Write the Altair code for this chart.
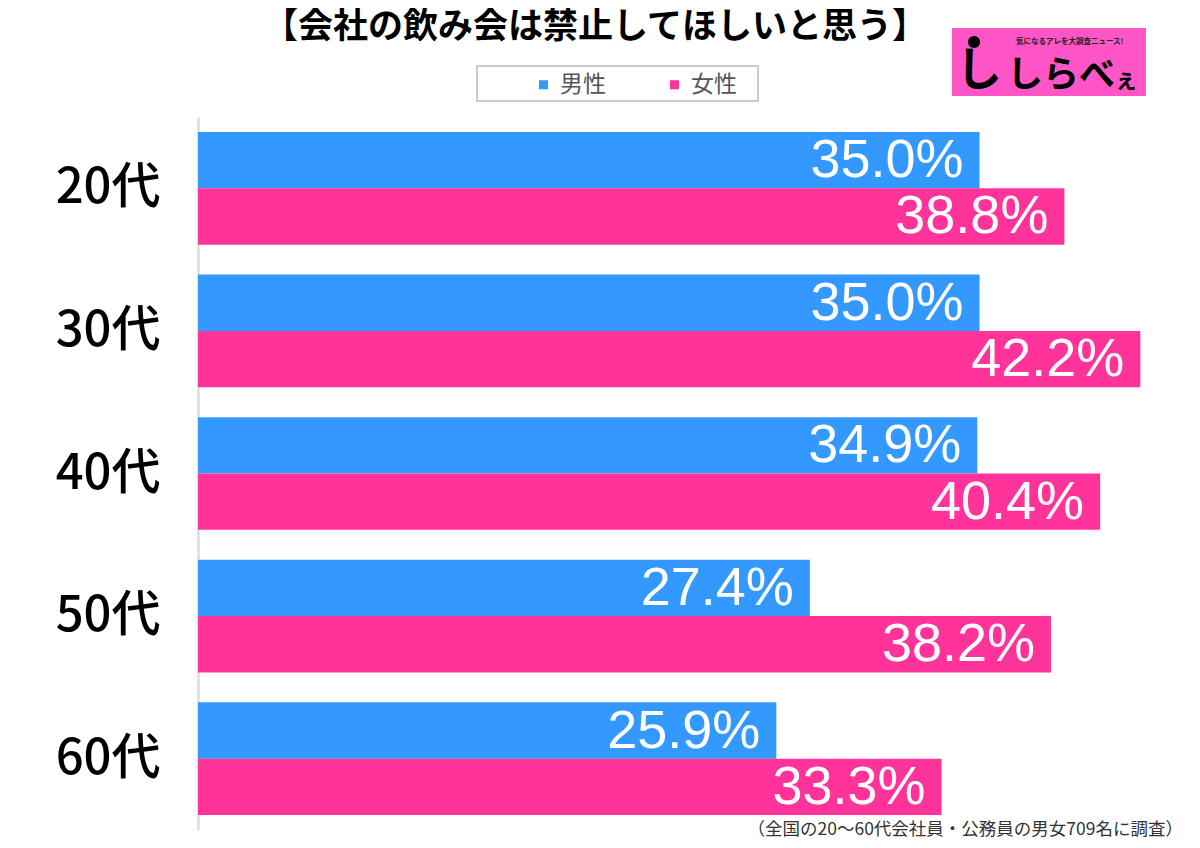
import altair as alt
import pandas as pd

categories = ["20代", "30代", "40代", "50代", "60代"]
genders = ["男性", "女性"]
male_values = [35.0, 35.0, 34.9, 27.4, 25.9]
female_values = [38.8, 42.2, 40.4, 38.2, 33.3]
colors = ["#3399FF", "#FF3399"]

title_text = "【会社の飲み会は禁止してほしいと思う】"
note_text = "（全国の20〜60代会社員・公務員の男女709名に調査）"

rows = []
for c, m, f in zip(categories, male_values, female_values):
    rows.append({"age": c, "gender": genders[0], "value": m})
    rows.append({"age": c, "gender": genders[1], "value": f})
df = pd.DataFrame(rows)

W, H = 987, 713
JP = "Noto Sans CJK JP"

y_enc = alt.Y("age:N", sort=categories,
              scale=alt.Scale(domain=categories, paddingInner=0.21, paddingOuter=0.105),
              axis=alt.Axis(title=None, ticks=False, labelFontSize=49, labelFont=JP,
                            labelFontWeight=500,
                            labelColor="#000", labelPadding=38, domainColor="#dddddd",
                            domainWidth=2.5, grid=False))
yoff = alt.YOffset("gender:N", sort=genders,
                   scale=alt.Scale(domain=genders, paddingInner=0, paddingOuter=0))
x_enc = alt.X("value:Q", scale=alt.Scale(domain=[0, 44.2], nice=False, zero=True), axis=None)
color_enc = alt.Color("gender:N", sort=genders,
                      scale=alt.Scale(domain=genders, range=colors),
                      legend=alt.Legend(title=None, orient="none", direction="horizontal",
                                        legendX=334, legendY=-44, symbolType="square",
                                        symbolSize=81, symbolStrokeWidth=0, labelFontSize=23,
                                        labelFont=JP, labelColor="#555555", columnPadding=57,
                                        labelOffset=5, padding=0))

base = alt.Chart(df)
bars = base.mark_bar().encode(y=y_enc, yOffset=yoff, x=x_enc, color=color_enc)
labels = base.transform_calculate(
    label="format(datum.value, '.1f') + '%'"
).mark_text(align="right", baseline="middle", dx=-16, dy=1, fontSize=54,
            font="Liberation Sans", color="white").encode(
    y=alt.Y("age:N", sort=categories), yOffset=alt.YOffset("gender:N", sort=genders),
    x="value:Q", text="label:N")

title = alt.Chart(pd.DataFrame({"t": [title_text]})).mark_text(
    fontSize=35, font=JP, fontWeight="bold", color="#000", align="center", baseline="middle"
).encode(x=alt.value(397), y=alt.value(-90), text="t:N")

note = alt.Chart(pd.DataFrame({"t": [note_text]})).mark_text(
    fontSize=17.5, font=JP, color="#333333", align="right", baseline="middle"
).encode(x=alt.value(985), y=alt.value(713), text="t:N")

legend_box = alt.Chart(pd.DataFrame({"a": [0]})).mark_rect(
    fill="white", stroke="#cccccc", strokeWidth=2
).encode(x=alt.value(279), x2=alt.value(560), y=alt.value(-51), y2=alt.value(-16))

logo_bg = alt.Chart(pd.DataFrame({"a": [0]})).mark_rect(fill="#FF55C6").encode(
    x=alt.value(754), x2=alt.value(948), y=alt.value(-89), y2=alt.value(-21))
logo_dot = alt.Chart(pd.DataFrame({"a": [0]})).mark_point(
    shape="circle", filled=True, color="#000", size=150, opacity=1
).encode(x=alt.value(776), y=alt.value(-75))
logo_hook = alt.Chart(pd.DataFrame({"t": ["し"]})).mark_text(
    fontSize=46, font=JP, fontWeight="bold", color="#000", align="left", baseline="middle"
).encode(x=alt.value(758), y=alt.value(-46), text="t:N")
logo_main = alt.Chart(pd.DataFrame({"t": ["しらべ"]})).mark_text(
    fontSize=36, font=JP, fontWeight="bold", color="#000", align="left", baseline="middle"
).encode(x=alt.value(809), y=alt.value(-41), text="t:N")
logo_small = alt.Chart(pd.DataFrame({"t": ["ぇ"]})).mark_text(
    fontSize=24, font=JP, fontWeight="bold", color="#000", align="left", baseline="middle"
).encode(x=alt.value(916), y=alt.value(-36), text="t:N")
logo_tag = alt.Chart(pd.DataFrame({"t": ["気になるアレを大調査ニュース!"]})).mark_text(
    fontSize=7.5, font=JP, fontWeight="bold", color="#222", align="left", baseline="middle"
).encode(x=alt.value(818), y=alt.value(-75), text="t:N")

chart = alt.layer(
    legend_box, bars, labels, title, note,
    logo_bg, logo_dot, logo_hook, logo_main, logo_small, logo_tag
).properties(
    width=W, height=H,
    autosize=alt.AutoSizeParams(type="none"),
    padding={"left": 190, "top": 109, "right": 0, "bottom": 10},
    background="white",
).configure_view(stroke=None)

chart.save("out.html", embed_options={"renderer": "svg", "actions": False})
